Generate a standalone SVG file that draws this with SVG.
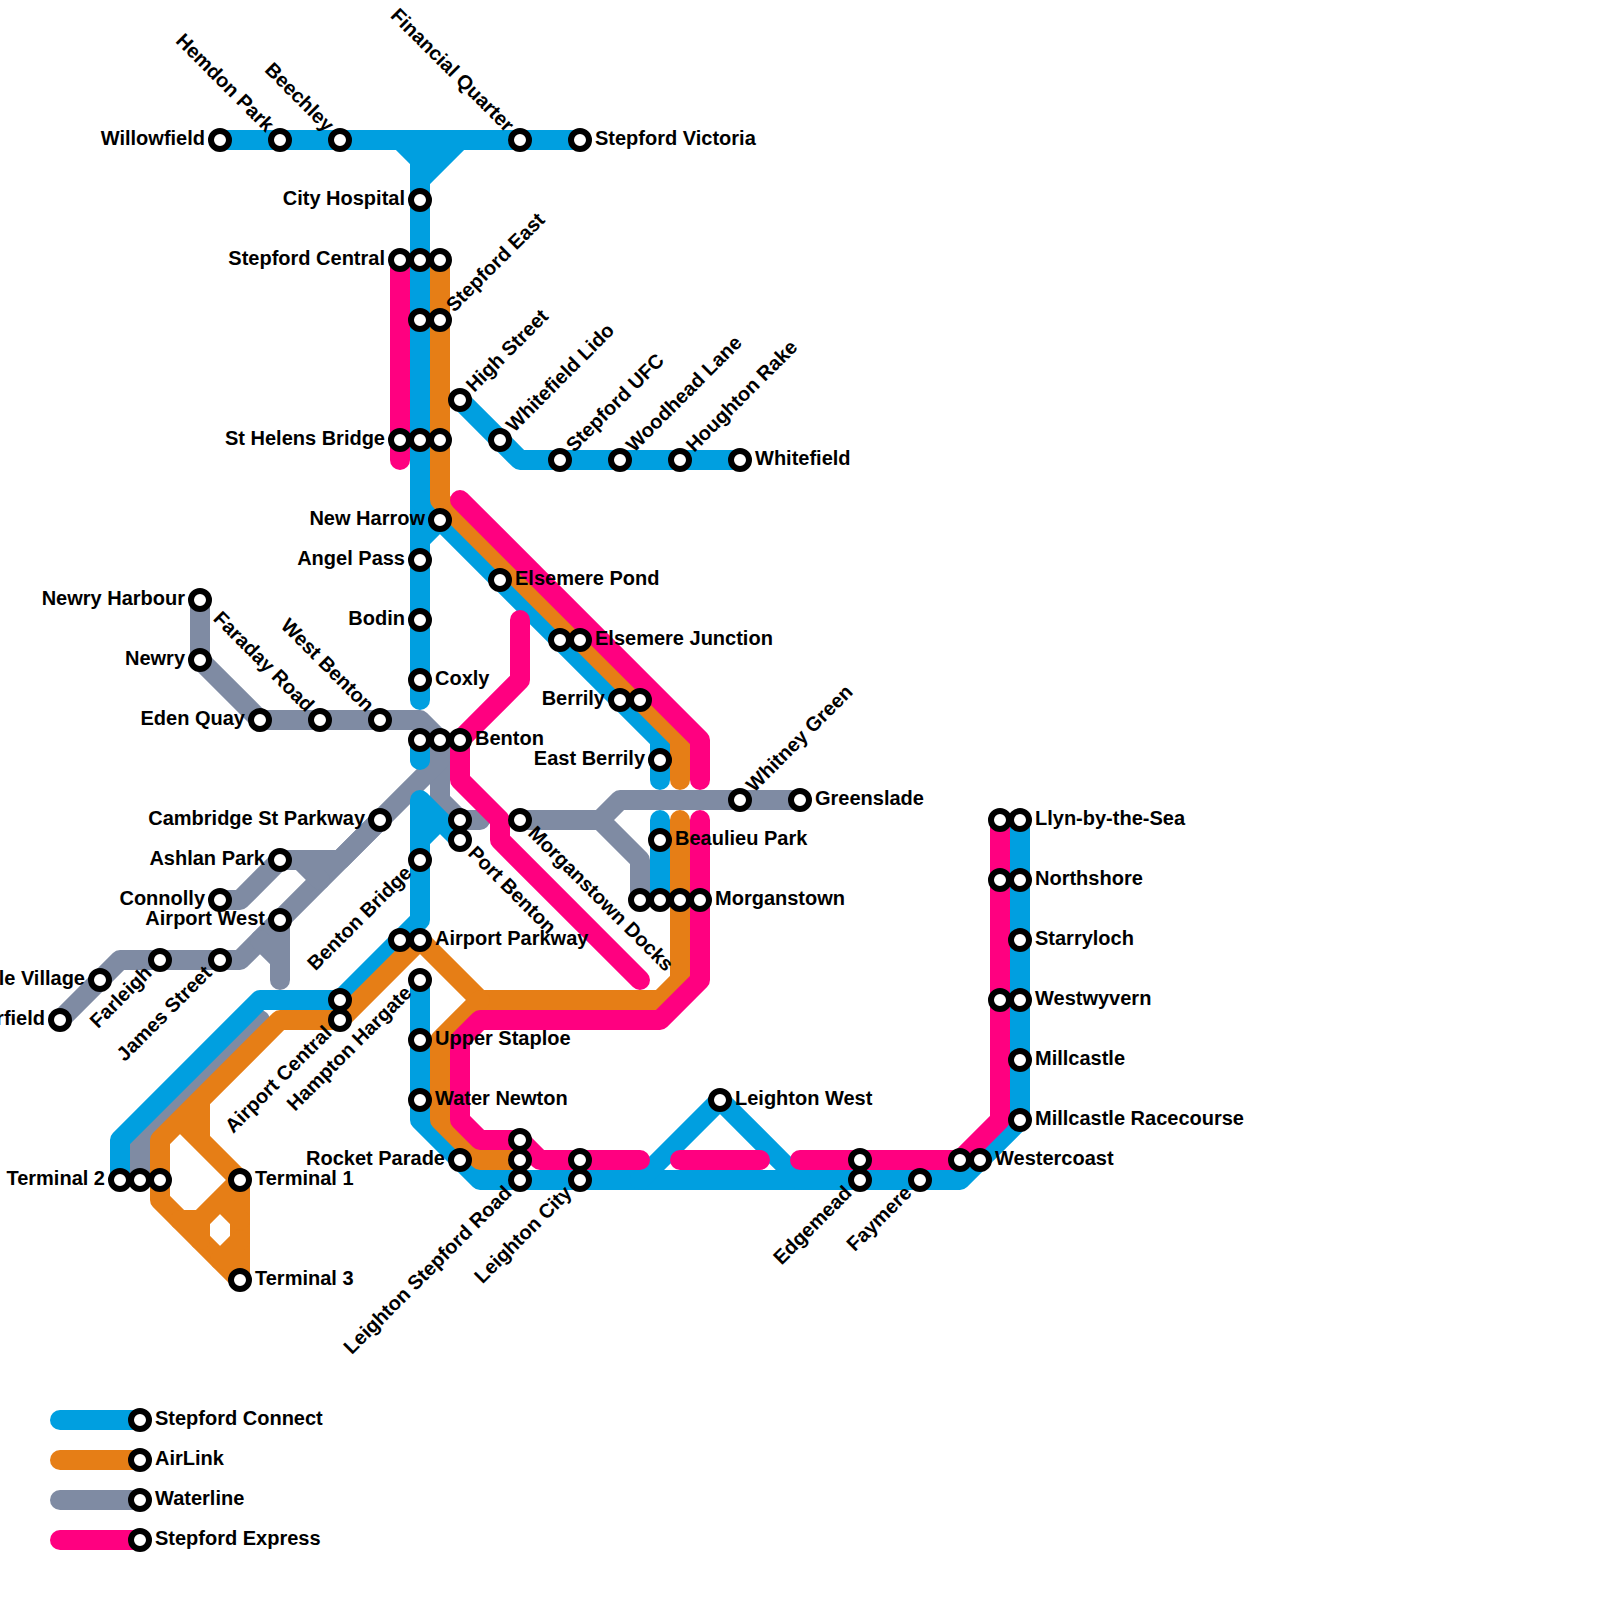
<svg xmlns="http://www.w3.org/2000/svg" width="1600" height="1600" viewBox="0 0 1600 1600">
<style>
.l{fill:none;stroke-width:20;stroke-linecap:round;stroke-linejoin:round}
.b{stroke:#009fe0}.o{stroke:#e67e16}.g{stroke:#7f8ba3}.p{stroke:#ff0080}
circle{fill:#fff;stroke:#000;stroke-width:6}
text{font-family:"Liberation Sans",Arial,sans-serif;font-weight:700;font-size:20px;fill:#000}
.e{text-anchor:end}
</style>
<rect width="1600" height="1600" fill="#fff"/>
<g id="connectors">
<g id="waterline">
<path class="l g" d="M200 600V660L260 720H420L440 740V800L460 820H480"/>
<path class="l g" d="M520 820H600L620 800H800M600 820L640 860V900"/>
<path class="l g" d="M440 760L240 960H120L60 1020"/>
<path class="l g" d="M380 820L340 860H280L240 900H220M300 860L320 880"/>
<path class="l g" d="M280 920V980M260 940L280 960"/>
<path class="l g" d="M260 1020L140 1140V1180"/>
<path class="l g" d="M60 1500H140"/>
</g>
<g id="stepford-connect">
<path class="l b" d="M220 140H580M400 140L420 160V700M460 140L420 180M440 140L420 160"/>
<path class="l b" d="M420 740V760"/>
<path class="l b" d="M460 400L520 460H740"/>
<path class="l b" d="M420 500L660 740V780M420 540L440 520"/>
<path class="l b" d="M660 820V900"/>
<path class="l b" d="M460 840L420 800V920L340 1000H260L120 1140V1180M420 840L440 820"/>
<path class="l b" d="M420 980V1120L480 1180H960L1020 1120V820"/>
<path class="l b" d="M640 1180L720 1100L800 1180"/>
<path class="l b" d="M60 1420H140"/>
</g>
<g id="airlink">
<path class="l o" d="M440 260V500L680 740V780"/>
<path class="l o" d="M680 820V980L660 1000H480L420 940L340 1020H280L160 1140V1200L240 1280V1180L200 1140V1100M180 1120L200 1140"/>
<path class="l o" d="M480 1000L440 1040V1120L480 1160H520"/>
<path class="l o" d="M240 1180L200 1220H180M200 1220V1240M220 1200L240 1220M240 1240L220 1260"/>
<path class="l o" d="M60 1460H140"/>
</g>
<g id="stepford-express">
<path class="l p" d="M400 260V460"/>
<path class="l p" d="M460 500L700 740V780"/>
<path class="l p" d="M700 820V980L660 1020H480L460 1040V1120L480 1140H520L540 1160H640"/>
<path class="l p" d="M680 1160H760"/>
<path class="l p" d="M800 1160H960L1000 1120V820"/>
<path class="l p" d="M520 620V680L460 740V780L500 820V840L640 980"/>
<path class="l p" d="M60 1540H140"/>
</g>
</g>
<g id="stations">
<g id="n1"><circle cx="220" cy="140" r="9"/><text class="e" x="205" y="145">Willowfield</text></g>
<g id="n2"><circle cx="280" cy="140" r="9"/><text class="e" transform="translate(280 140) rotate(45) translate(-15 5)">Hemdon Park</text></g>
<g id="n3"><circle cx="340" cy="140" r="9"/><text class="e" transform="translate(340 140) rotate(45) translate(-15 5)">Beechley</text></g>
<g id="n4"><circle cx="520" cy="140" r="9"/><text class="e" transform="translate(520 140) rotate(45) translate(-15 5)">Financial Quarter</text></g>
<g id="n5"><circle cx="580" cy="140" r="9"/><text x="595" y="145">Stepford Victoria</text></g>
<g id="n6"><circle cx="420" cy="200" r="9"/><text class="e" x="405" y="205">City Hospital</text></g>
<g id="n7"><circle cx="400" cy="260" r="9"/><text class="e" x="385" y="265">Stepford Central</text></g>
<g id="n8"><circle cx="420" cy="260" r="9"/></g>
<g id="n9"><circle cx="440" cy="260" r="9"/></g>
<g id="n10"><circle cx="420" cy="320" r="9"/></g>
<g id="n11"><circle cx="440" cy="320" r="9"/><text transform="translate(440 320) rotate(-45) translate(15 5)">Stepford East</text></g>
<g id="n12"><circle cx="460" cy="400" r="9"/><text transform="translate(460 400) rotate(-45) translate(15 5)">High Street</text></g>
<g id="n13"><circle cx="400" cy="440" r="9"/><text class="e" x="385" y="445">St Helens Bridge</text></g>
<g id="n14"><circle cx="420" cy="440" r="9"/></g>
<g id="n15"><circle cx="440" cy="440" r="9"/></g>
<g id="n16"><circle cx="500" cy="440" r="9"/><text transform="translate(500 440) rotate(-45) translate(15 5)">Whitefield Lido</text></g>
<g id="n17"><circle cx="560" cy="460" r="9"/><text transform="translate(560 460) rotate(-45) translate(15 5)">Stepford UFC</text></g>
<g id="n18"><circle cx="620" cy="460" r="9"/><text transform="translate(620 460) rotate(-45) translate(15 5)">Woodhead Lane</text></g>
<g id="n19"><circle cx="680" cy="460" r="9"/><text transform="translate(680 460) rotate(-45) translate(15 5)">Houghton Rake</text></g>
<g id="n20"><circle cx="740" cy="460" r="9"/><text x="755" y="465">Whitefield</text></g>
<g id="n21"><circle cx="440" cy="520" r="9"/><text class="e" x="425" y="525">New Harrow</text></g>
<g id="n22"><circle cx="420" cy="560" r="9"/><text class="e" x="405" y="565">Angel Pass</text></g>
<g id="n23"><circle cx="420" cy="620" r="9"/><text class="e" x="405" y="625">Bodin</text></g>
<g id="n24"><circle cx="420" cy="680" r="9"/><text x="435" y="685">Coxly</text></g>
<g id="n25"><circle cx="500" cy="580" r="9"/><text x="515" y="585">Elsemere Pond</text></g>
<g id="n26"><circle cx="560" cy="640" r="9"/></g>
<g id="n27"><circle cx="580" cy="640" r="9"/><text x="595" y="645">Elsemere Junction</text></g>
<g id="n28"><circle cx="620" cy="700" r="9"/><text class="e" x="605" y="705">Berrily</text></g>
<g id="n29"><circle cx="640" cy="700" r="9"/></g>
<g id="n30"><circle cx="660" cy="760" r="9"/><text class="e" x="645" y="765">East Berrily</text></g>
<g id="n31"><circle cx="420" cy="740" r="9"/></g>
<g id="n32"><circle cx="440" cy="740" r="9"/></g>
<g id="n33"><circle cx="460" cy="740" r="9"/><text x="475" y="745">Benton</text></g>
<g id="n34"><circle cx="740" cy="800" r="9"/><text transform="translate(740 800) rotate(-45) translate(15 5)">Whitney Green</text></g>
<g id="n35"><circle cx="800" cy="800" r="9"/><text x="815" y="805">Greenslade</text></g>
<g id="n36"><circle cx="660" cy="840" r="9"/><text x="675" y="845">Beaulieu Park</text></g>
<g id="n37"><circle cx="640" cy="900" r="9"/></g>
<g id="n38"><circle cx="660" cy="900" r="9"/></g>
<g id="n39"><circle cx="680" cy="900" r="9"/></g>
<g id="n40"><circle cx="700" cy="900" r="9"/><text x="715" y="905">Morganstown</text></g>
<g id="n41"><circle cx="520" cy="820" r="9"/><text transform="translate(520 820) rotate(45) translate(15 5)">Morganstown Docks</text></g>
<g id="n42"><circle cx="460" cy="820" r="9"/></g>
<g id="n43"><circle cx="460" cy="840" r="9"/><text transform="translate(460 840) rotate(45) translate(15 5)">Port Benton</text></g>
<g id="n44"><circle cx="420" cy="860" r="9"/><text class="e" transform="translate(420 860) rotate(-45) translate(-15 5)">Benton Bridge</text></g>
<g id="n45"><circle cx="400" cy="940" r="9"/></g>
<g id="n46"><circle cx="420" cy="940" r="9"/><text x="435" y="945">Airport Parkway</text></g>
<g id="n47"><circle cx="420" cy="980" r="9"/><text class="e" transform="translate(420 980) rotate(-45) translate(-15 5)">Hampton Hargate</text></g>
<g id="n48"><circle cx="420" cy="1040" r="9"/><text x="435" y="1045">Upper Staploe</text></g>
<g id="n49"><circle cx="420" cy="1100" r="9"/><text x="435" y="1105">Water Newton</text></g>
<g id="n50"><circle cx="460" cy="1160" r="9"/><text class="e" x="445" y="1165">Rocket Parade</text></g>
<g id="n51"><circle cx="520" cy="1140" r="9"/></g>
<g id="n52"><circle cx="520" cy="1160" r="9"/></g>
<g id="n53"><circle cx="520" cy="1180" r="9"/><text class="e" transform="translate(520 1180) rotate(-45) translate(-15 5)">Leighton Stepford Road</text></g>
<g id="n54"><circle cx="580" cy="1160" r="9"/></g>
<g id="n55"><circle cx="580" cy="1180" r="9"/><text class="e" transform="translate(580 1180) rotate(-45) translate(-15 5)">Leighton City</text></g>
<g id="n56"><circle cx="720" cy="1100" r="9"/><text x="735" y="1105">Leighton West</text></g>
<g id="n57"><circle cx="860" cy="1160" r="9"/></g>
<g id="n58"><circle cx="860" cy="1180" r="9"/><text class="e" transform="translate(860 1180) rotate(-45) translate(-15 5)">Edgemead</text></g>
<g id="n59"><circle cx="920" cy="1180" r="9"/><text class="e" transform="translate(920 1180) rotate(-45) translate(-15 5)">Faymere</text></g>
<g id="n60"><circle cx="960" cy="1160" r="9"/></g>
<g id="n61"><circle cx="980" cy="1160" r="9"/><text x="995" y="1165">Westercoast</text></g>
<g id="n62"><circle cx="1000" cy="820" r="9"/></g>
<g id="n63"><circle cx="1020" cy="820" r="9"/><text x="1035" y="825">Llyn-by-the-Sea</text></g>
<g id="n64"><circle cx="1000" cy="880" r="9"/></g>
<g id="n65"><circle cx="1020" cy="880" r="9"/><text x="1035" y="885">Northshore</text></g>
<g id="n66"><circle cx="1020" cy="940" r="9"/><text x="1035" y="945">Starryloch</text></g>
<g id="n67"><circle cx="1000" cy="1000" r="9"/></g>
<g id="n68"><circle cx="1020" cy="1000" r="9"/><text x="1035" y="1005">Westwyvern</text></g>
<g id="n69"><circle cx="1020" cy="1060" r="9"/><text x="1035" y="1065">Millcastle</text></g>
<g id="n70"><circle cx="1020" cy="1120" r="9"/><text x="1035" y="1125">Millcastle Racecourse</text></g>
<g id="n71"><circle cx="200" cy="600" r="9"/><text class="e" x="185" y="605">Newry Harbour</text></g>
<g id="n72"><circle cx="200" cy="660" r="9"/><text class="e" x="185" y="665">Newry</text></g>
<g id="n73"><circle cx="260" cy="720" r="9"/><text class="e" x="245" y="725">Eden Quay</text></g>
<g id="n74"><circle cx="320" cy="720" r="9"/><text class="e" transform="translate(320 720) rotate(45) translate(-15 5)">Faraday Road</text></g>
<g id="n75"><circle cx="380" cy="720" r="9"/><text class="e" transform="translate(380 720) rotate(45) translate(-15 5)">West Benton</text></g>
<g id="n76"><circle cx="380" cy="820" r="9"/><text class="e" x="365" y="825">Cambridge St Parkway</text></g>
<g id="n77"><circle cx="280" cy="860" r="9"/><text class="e" x="265" y="865">Ashlan Park</text></g>
<g id="n78"><circle cx="220" cy="900" r="9"/><text class="e" x="205" y="905">Connolly</text></g>
<g id="n79"><circle cx="280" cy="920" r="9"/><text class="e" x="265" y="925">Airport West</text></g>
<g id="n80"><circle cx="220" cy="960" r="9"/><text class="e" transform="translate(220 960) rotate(-45) translate(-15 5)">James Street</text></g>
<g id="n81"><circle cx="160" cy="960" r="9"/><text class="e" transform="translate(160 960) rotate(-45) translate(-15 5)">Farleigh</text></g>
<g id="n82"><circle cx="100" cy="980" r="9"/><text class="e" x="85" y="985">le Village</text></g>
<g id="n83"><circle cx="60" cy="1020" r="9"/><text class="e" x="45" y="1025">rfield</text></g>
<g id="n84"><circle cx="340" cy="1000" r="9"/></g>
<g id="n85"><circle cx="340" cy="1020" r="9"/><text class="e" transform="translate(340 1020) rotate(-45) translate(-15 5)">Airport Central</text></g>
<g id="n86"><circle cx="120" cy="1180" r="9"/><text class="e" x="105" y="1185">Terminal 2</text></g>
<g id="n87"><circle cx="140" cy="1180" r="9"/></g>
<g id="n88"><circle cx="160" cy="1180" r="9"/></g>
<g id="n89"><circle cx="240" cy="1180" r="9"/><text x="255" y="1185">Terminal 1</text></g>
<g id="n90"><circle cx="240" cy="1280" r="9"/><text x="255" y="1285">Terminal 3</text></g>
</g>
<g id="legend">
<g id="k1"><circle cx="140" cy="1420" r="9"/><text x="155" y="1425">Stepford Connect</text></g>
<g id="k2"><circle cx="140" cy="1460" r="9"/><text x="155" y="1465">AirLink</text></g>
<g id="k3"><circle cx="140" cy="1500" r="9"/><text x="155" y="1505">Waterline</text></g>
<g id="k4"><circle cx="140" cy="1540" r="9"/><text x="155" y="1545">Stepford Express</text></g>
</g>
</svg>
